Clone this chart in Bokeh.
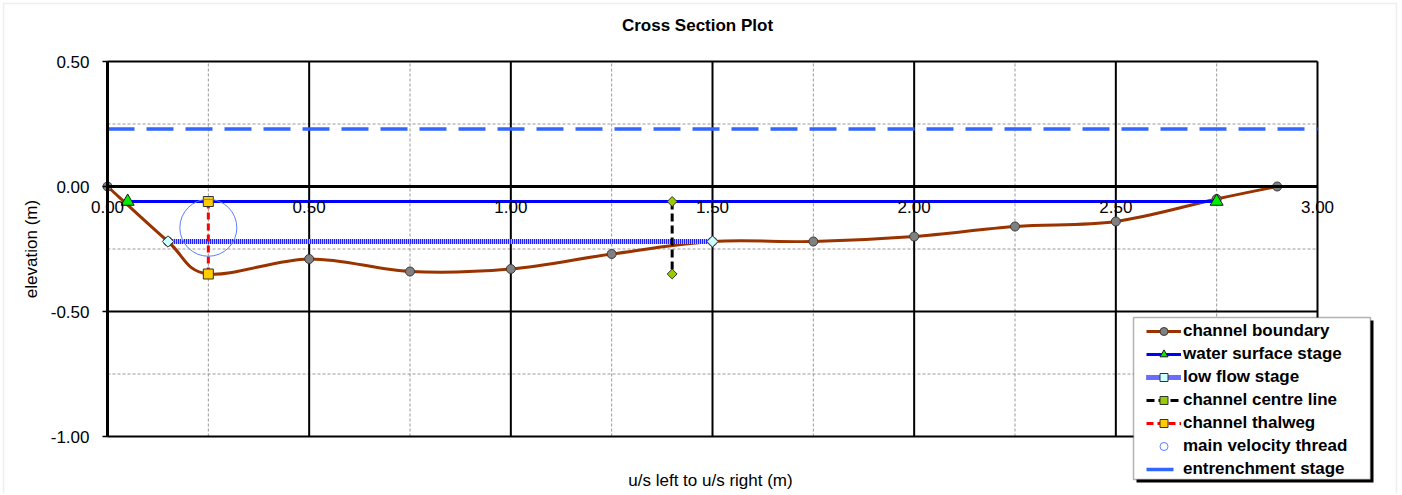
import math
from bokeh.plotting import figure
from bokeh.models import (Range1d, FixedTicker, NumeralTickFormatter, Legend, LegendItem,
                          Label, BoxAnnotation)
from bokeh.embed import file_html
from bokeh.resources import INLINE

# ---------------- data ----------------
boundary_x = [0.00, 0.15, 0.25, 0.50, 0.75, 1.00, 1.25, 1.50, 1.75, 2.00, 2.25, 2.50, 2.75, 2.90]
boundary_y = [0.00, -0.22, -0.35, -0.29, -0.34, -0.33, -0.27, -0.22, -0.22, -0.20, -0.16, -0.14, -0.05, 0.00]

water_x = [0.05, 2.75]
water_y = [-0.06, -0.06]

lowflow_x = [0.15, 1.50]
lowflow_y = [-0.22, -0.22]

centre_x = [1.40, 1.40]
centre_y = [-0.06, -0.35]

thalweg_x = [0.25, 0.25]
thalweg_y = [-0.06, -0.35]

velocity_x = [0.25]
velocity_y = [-0.165]

entrench_x = [0.00, 3.00]
entrench_y = [0.23, 0.23]

x_ticks = [0.0, 0.5, 1.0, 1.5, 2.0, 2.5, 3.0]
x_minor = [0.25, 0.75, 1.25, 1.75, 2.25, 2.75]
y_ticks = [-1.0, -0.5, 0.0, 0.5]
y_minor = [-0.75, -0.25, 0.25]

legend_labels = ["channel boundary", "water surface stage", "low flow stage",
                 "channel centre line", "channel thalweg", "main velocity thread",
                 "entrenchment stage"]
chart_title = "Cross Section Plot"
x_title = "u/s left to u/s right (m)"
y_title = "elevation (m)"

FONT = "Liberation Sans"

# ---------------- geometry (the frame covers the whole canvas) ----------------
W, H = 1400, 493
PX_X = 1210 / 3.0      # pixels per metre horizontally
PX_Y = 250.0           # pixels per metre vertically
LEFT_ABS = 107         # where x = 0 sits
TOP_ABS = 61           # where y = 0.5 sits
x0r = -LEFT_ABS / PX_X
x1r = x0r + W / PX_X
y1r = 0.5 + TOP_ABS / PX_Y
y0r = y1r - H / PX_Y

p = figure(frame_width=W, frame_height=H,
           x_range=Range1d(x0r, x1r), y_range=Range1d(y0r, y1r),
           output_backend="svg", toolbar_location=None,
           min_border_left=0, min_border_right=0, min_border_top=0, min_border_bottom=0,
           background_fill_color="white", border_fill_color="white")
p.outline_line_color = None
p.xgrid.visible = False
p.ygrid.visible = False

# light outer chart-area border
p.add_layout(BoxAnnotation(left=3, right=1396, bottom=-6, top=H - 3,
                           left_units="screen", right_units="screen",
                           top_units="screen", bottom_units="screen",
                           fill_alpha=0, line_color="#c8c8c8", line_width=1.5,
                           level="underlay"))

xt = FixedTicker(ticks=x_ticks, minor_ticks=x_minor)
yt = FixedTicker(ticks=y_ticks, minor_ticks=y_minor)

xa = p.xaxis[0]
xa.fixed_location = 0
xa.bounds = (x_ticks[0], x_ticks[-1])
xa.ticker = xt
xa.formatter = NumeralTickFormatter(format="0.00")
xa.axis_line_width = 3
xa.axis_line_color = "black"
xa.major_tick_in = 0
xa.major_tick_out = 0
xa.minor_tick_in = 0
xa.minor_tick_out = 0
xa.major_label_standoff = 14
xa.major_label_text_font = FONT
xa.major_label_text_font_size = "17px"
xa.major_label_text_color = "black"

ya = p.yaxis[0]
ya.fixed_location = 0
ya.bounds = (y_ticks[0], y_ticks[-1])
ya.ticker = yt
ya.formatter = NumeralTickFormatter(format="0.00")
ya.axis_line_width = 3
ya.axis_line_color = "black"
ya.major_tick_in = 0
ya.major_tick_out = 5
ya.major_tick_line_width = 1.5
ya.minor_tick_in = 0
ya.minor_tick_out = 0
ya.major_label_standoff = 13
ya.major_label_text_font = FONT
ya.major_label_text_font_size = "17px"
ya.major_label_text_color = "black"
ya.axis_label = y_title
ya.axis_label_text_font = FONT
ya.axis_label_text_font_size = "17px"
ya.axis_label_text_font_style = "normal"
ya.axis_label_text_color = "black"
ya.axis_label_standoff = 7

# ---------------- grid (drawn inside the plot area only) ----------------
xmin, xmax = x_ticks[0], x_ticks[-1]
ymin, ymax = y_ticks[0], y_ticks[-1]
p.segment(x0=x_minor, y0=[ymin] * len(x_minor), x1=x_minor, y1=[ymax] * len(x_minor),
          line_color="#999999", line_width=1, line_dash="3 2")
p.segment(x0=[xmin] * len(y_minor), y0=y_minor, x1=[xmax] * len(y_minor), y1=y_minor,
          line_color="#999999", line_width=1, line_dash="3 2")
vmaj = [t for t in x_ticks if t != 0]
hmaj = [t for t in y_ticks if t != 0]
p.segment(x0=vmaj, y0=[ymin] * len(vmaj), x1=vmaj, y1=[ymax] * len(vmaj),
          line_color="black", line_width=2)
p.segment(x0=[xmin] * len(hmaj), y0=hmaj, x1=[xmax] * len(hmaj), y1=hmaj,
          line_color="black", line_width=2)

# ---------------- channel boundary (smoothed bezier) ----------------
n = len(boundary_x)
bx0, by0, bx1, by1, bcx0, bcy0, bcx1, bcy1 = [], [], [], [], [], [], [], []
for i in range(n - 1):
    xm, ym = (boundary_x[i - 1], boundary_y[i - 1]) if i > 0 else (boundary_x[i], boundary_y[i])
    xp, yp = (boundary_x[i + 2], boundary_y[i + 2]) if i + 2 < n else (boundary_x[i + 1], boundary_y[i + 1])
    bx0.append(boundary_x[i]); by0.append(boundary_y[i])
    bx1.append(boundary_x[i + 1]); by1.append(boundary_y[i + 1])
    bcx0.append(boundary_x[i] + (boundary_x[i + 1] - xm) / 6.0)
    bcy0.append(boundary_y[i] + (boundary_y[i + 1] - ym) / 6.0)
    bcx1.append(boundary_x[i + 1] - (xp - boundary_x[i]) / 6.0)
    bcy1.append(boundary_y[i + 1] - (yp - boundary_y[i]) / 6.0)

r_bz = p.bezier(x0=bx0, y0=by0, x1=bx1, y1=by1, cx0=bcx0, cy0=bcy0, cx1=bcx1, cy1=bcy1,
                line_color="#993300", line_width=3)
r_bp = p.scatter(boundary_x, boundary_y, marker="circle", size=9,
                 fill_color="#808080", line_color="#3a3a3a", line_width=1)

# water surface
r_wl = p.line(water_x, water_y, line_color="#0000ff", line_width=3)
r_wp = p.scatter(water_x, water_y, marker="triangle", size=13,
                 fill_color="#00ee00", line_color="#1a1a1a", line_width=1)

# low flow stage
r_l1 = p.line(lowflow_x, lowflow_y, line_color="#b8b8ff", line_width=5)
r_l2 = p.line(lowflow_x, lowflow_y, line_color="#1f1fff", line_width=5, line_dash="1 1")
r_lp = p.scatter(lowflow_x, lowflow_y, marker="square", angle=math.pi / 4, size=8,
                 fill_color="#ccffff", line_color="#333333", line_width=1)

# centre line
r_cl = p.line(centre_x, centre_y, line_color="black", line_width=3, line_dash="8 4")
r_cp = p.scatter(centre_x, centre_y, marker="square", angle=math.pi / 4, size=7,
                 fill_color="#99cc00", line_color="#333333", line_width=1)

# thalweg
r_tl = p.line(thalweg_x, thalweg_y, line_color="#ff0000", line_width=3, line_dash="7 4")
r_tp = p.scatter(thalweg_x, thalweg_y, marker="square", size=10,
                 fill_color="#ffcc00", line_color="#333333", line_width=1)

# main velocity thread
r_vp = p.scatter(velocity_x, velocity_y, marker="circle", size=57,
                 fill_color=None, line_color="#5b7fff", line_width=1)

# entrenchment
r_en = p.line(entrench_x, entrench_y, line_color="#3366ff", line_width=3.5, line_dash="27 12")

# ---------------- legend ----------------
shadow = BoxAnnotation(left=1136, right=1373, bottom=11, top=173,
                       left_units="screen", right_units="screen",
                       top_units="screen", bottom_units="screen",
                       fill_color="black", fill_alpha=1, line_color=None)
box = BoxAnnotation(left=1133, right=1370, bottom=14, top=176,
                    left_units="screen", right_units="screen",
                    top_units="screen", bottom_units="screen",
                    fill_color="white", fill_alpha=1, line_color="black", line_width=1.5)
p.add_layout(shadow)
p.add_layout(box)

renderer_groups = [[r_bz, r_bp], [r_wl, r_wp], [r_l1, r_l2, r_lp], [r_cl, r_cp],
                   [r_tl, r_tp], [r_vp], [r_en]]
items = [LegendItem(label=lab, renderers=rs) for lab, rs in zip(legend_labels, renderer_groups)]
legend = Legend(items=items, location=(1146, 14),
                label_text_font=FONT, label_text_font_size="17px", label_text_font_style="bold",
                label_text_color="black", label_height=20, glyph_height=20, glyph_width=35,
                label_standoff=2, padding=2, spacing=3, margin=0,
                background_fill_alpha=0, border_line_color=None)
p.add_layout(legend)

# ---------------- titles ----------------
p.add_layout(Label(x=697, y=468, x_units="screen", y_units="screen", text=chart_title,
                   text_align="center", text_baseline="middle", text_font=FONT,
                   text_font_size="17px", text_font_style="bold", text_color="black"))
p.add_layout(Label(x=710, y=13, x_units="screen", y_units="screen", text=x_title,
                   text_align="center", text_baseline="middle", text_font=FONT,
                   text_font_size="17px", text_color="black"))

open("out.html", "w").write(file_html(p, INLINE))
